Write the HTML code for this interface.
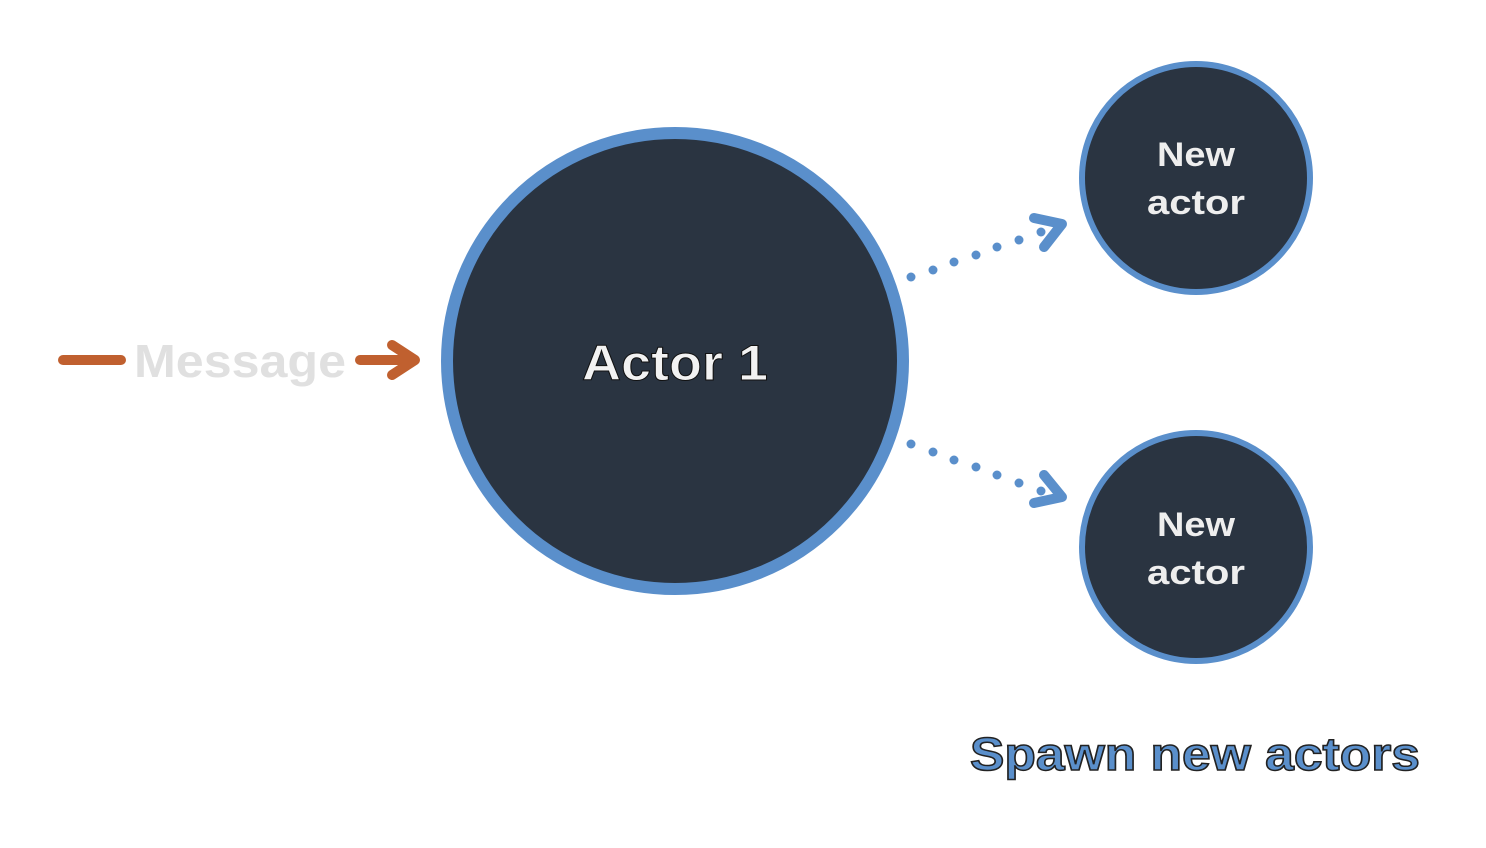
<!DOCTYPE html>
<html><head><meta charset="utf-8"><style>
html,body{margin:0;padding:0;background:#fff;}
svg{display:block;}
</style></head><body>
<svg width="1486" height="848" viewBox="0 0 1486 848" xmlns="http://www.w3.org/2000/svg">
<rect width="1486" height="848" fill="#fff"/>
<circle cx="675" cy="361" r="228" fill="#2a3441" stroke="#5a8fcb" stroke-width="12"/>
<circle cx="1196" cy="178" r="114" fill="#2a3441" stroke="#5a8fcb" stroke-width="6"/>
<circle cx="1196" cy="547" r="114" fill="#2a3441" stroke="#5a8fcb" stroke-width="6"/>
<g fill="#5a8fcb">
<circle cx="911" cy="277" r="4.5"/><circle cx="933" cy="270" r="4.5"/><circle cx="954" cy="262" r="4.5"/><circle cx="976" cy="255" r="4.5"/><circle cx="997" cy="247" r="4.5"/><circle cx="1019" cy="240" r="4.5"/><circle cx="1041" cy="232" r="4.5"/>
<circle cx="911" cy="444" r="4.5"/><circle cx="933" cy="452" r="4.5"/><circle cx="954" cy="460" r="4.5"/><circle cx="976" cy="467" r="4.5"/><circle cx="997" cy="475" r="4.5"/><circle cx="1019" cy="483" r="4.5"/><circle cx="1041" cy="491" r="4.5"/>
</g>
<g fill="none" stroke="#5a8fcb" stroke-width="10" stroke-linecap="round" stroke-linejoin="round">
<polyline points="1034,218 1062,224 1044,247"/>
<polyline points="1034,503 1062,497 1044,475"/>
</g>
<g fill="none" stroke="#c0602f" stroke-width="10" stroke-linecap="round" stroke-linejoin="round">
<line x1="63" y1="360" x2="121" y2="360"/>
<line x1="360" y1="360" x2="412" y2="360"/>
<polyline points="392,345 415,360 392,375"/>
</g>
<text x="240" y="377" text-anchor="middle" font-family="Liberation Sans, sans-serif" font-weight="bold" font-size="46" fill="#e0e0e0" textLength="212" lengthAdjust="spacingAndGlyphs">Message</text>
<text x="675" y="380" text-anchor="middle" font-family="Liberation Sans, sans-serif" font-weight="bold" font-size="50" fill="#f2f2f2" stroke="#111" stroke-width="1" textLength="186" lengthAdjust="spacingAndGlyphs">Actor 1</text>
<g font-family="Liberation Sans, sans-serif" font-weight="bold" font-size="34" fill="#eeeeee" text-anchor="middle">
<text x="1196" y="166" textLength="78" lengthAdjust="spacingAndGlyphs">New</text>
<text x="1196" y="214" textLength="98" lengthAdjust="spacingAndGlyphs">actor</text>
<text x="1196" y="536" textLength="78" lengthAdjust="spacingAndGlyphs">New</text>
<text x="1196" y="584" textLength="98" lengthAdjust="spacingAndGlyphs">actor</text>
</g>
<text x="1195" y="770" text-anchor="middle" font-family="Liberation Sans, sans-serif" font-weight="bold" font-size="46" fill="#5a8fcb" stroke="#222" stroke-width="1.5" textLength="450" lengthAdjust="spacingAndGlyphs">Spawn new actors</text>
</svg>
</body></html>
